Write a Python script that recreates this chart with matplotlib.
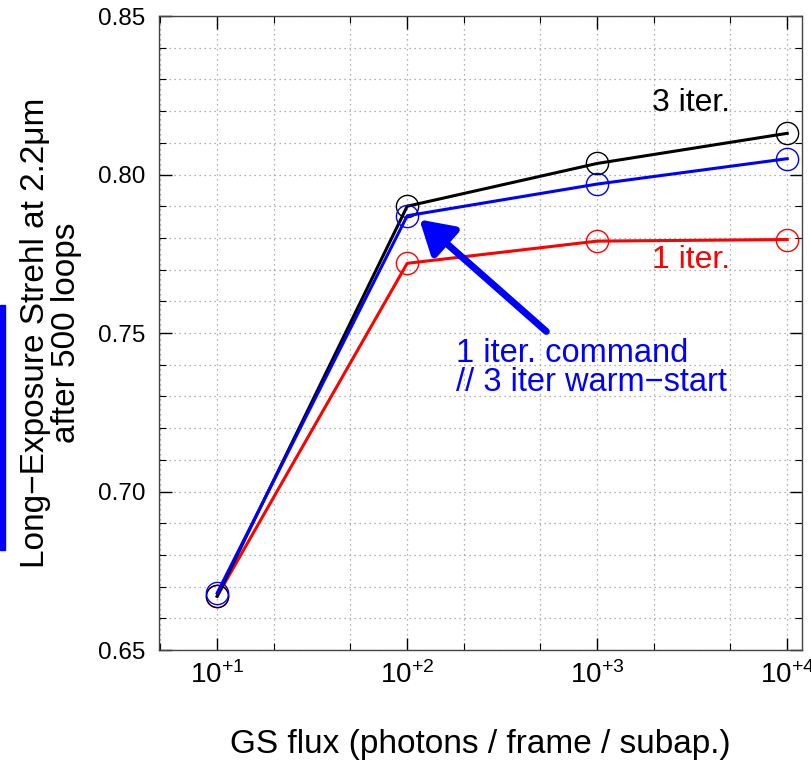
import numpy as np
import matplotlib
matplotlib.use("Agg")
import matplotlib.pyplot as plt
from matplotlib.ticker import FixedLocator, FuncFormatter, MultipleLocator

plt.rcParams["font.family"] = ["Liberation Sans", "DejaVu Sans"]
plt.rcParams["mathtext.fontset"] = "custom"
plt.rcParams["mathtext.rm"] = "Liberation Sans"
plt.rcParams["mathtext.it"] = "Liberation Sans"

flux = [10, 100, 1000, 10000]
strehl_3iter = [0.667, 0.790, 0.8035, 0.813]
strehl_warm = [0.668, 0.787, 0.797, 0.805]
strehl_1iter = [0.667, 0.772, 0.779, 0.7795]
xtick_vals = [10, 100, 1000, 10000]
xtick_labels = ["$10^{+1}$", "$10^{+2}$", "$10^{+3}$", "$10^{+4}$"]

fig = plt.figure(figsize=(8.12, 7.63), dpi=100)
ax = fig.add_axes([0.196, 0.148, 0.792, 0.831])

ms = 16
ax.plot(flux, strehl_1iter, color="red", lw=2.2, marker="o", ms=ms,
        mfc="none", mec="red", mew=1.0, zorder=3)
ax.plot(flux, strehl_3iter, color="black", lw=2.2, marker="o", ms=ms,
        mfc="none", mec="black", mew=1.0, zorder=4)
ax.plot(flux, strehl_warm, color="blue", lw=2.2, marker="o", ms=ms,
        mfc="none", mec="blue", mew=1.0, zorder=5)

ax.set_xscale("log")
ax.set_xlim(4.95, 12000)
ax.set_ylim(0.65, 0.85)

ax.xaxis.set_major_locator(FixedLocator(xtick_vals))
ax.xaxis.set_major_formatter(FuncFormatter(lambda v, p: xtick_labels[xtick_vals.index(v)] if v in xtick_vals else ""))
grid_x = [m * 10.0 ** d for d in range(0, 5) for m in (1, 2, 5)]
ax.xaxis.set_minor_locator(FixedLocator(grid_x))
ax.xaxis.set_minor_formatter(FuncFormatter(lambda v, p: ""))

ax.yaxis.set_major_locator(MultipleLocator(0.05))
ax.yaxis.set_minor_locator(MultipleLocator(0.01))
ax.yaxis.set_major_formatter(FuncFormatter(lambda v, p: f"{v:.2f}"))

ax.tick_params(which="both", direction="in", top=True, right=True)
ax.tick_params(axis="y", which="major", labelsize=17.5, pad=10)
ax.tick_params(axis="x", which="major", labelsize=20, pad=8)
ax.tick_params(which="major", length=9, width=1.0)
ax.tick_params(which="minor", length=5, width=0.8)
ax.grid(which="both", color="#999999", linestyle=(0, (1, 3)), linewidth=0.9)
for s in ax.spines.values():
    s.set_color("#444444")
    s.set_linewidth(1.0)

ax.set_xlabel("GS flux (photons / frame / subap.)", fontsize=24)
ax.xaxis.set_label_coords(0.5, -0.125)
ax.set_ylabel("Long\u2212Exposure Strehl at 2.2\u03bcm\nafter 500 loops", fontsize=24,
              linespacing=1.0)
ax.yaxis.set_label_coords(-0.12, 0.5)

ax.text(3100, 0.8226, "3 iter.", color="black", fontsize=23, ha="center", va="center")
ax.text(3100, 0.7730, "1 iter.", color="red", fontsize=23, ha="center", va="center")
ax.text(180, 0.739, "1 iter. command\n// 3 iter warm\u2212start", color="blue",
        fontsize=23.5, ha="left", va="center", linespacing=0.95)

ax.annotate("", xy=(116, 0.7858), xytext=(540, 0.7505),
            arrowprops=dict(arrowstyle="-|>,head_length=2.0,head_width=1.2",
                            color="blue", lw=5, shrinkA=0, shrinkB=0), zorder=6)

fig.patches.append(plt.Rectangle((0, 0.279), 5 / 812, 0.321, transform=fig.transFigure,
                                 color="blue", zorder=10))

fig.savefig("out.png", dpi=100)
